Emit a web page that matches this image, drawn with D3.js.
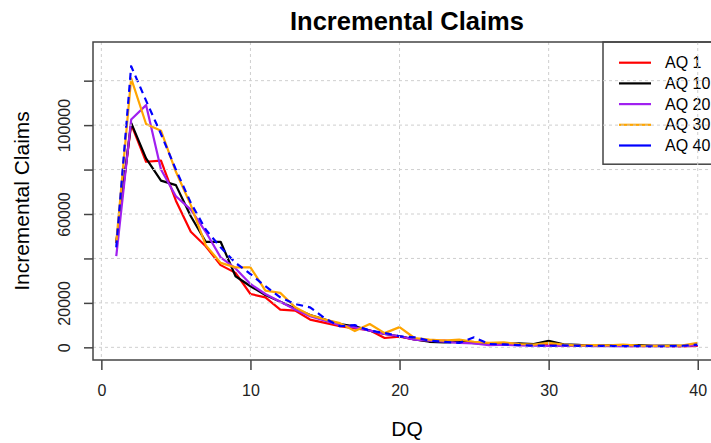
<!DOCTYPE html>
<html>
<head>
<meta charset="utf-8">
<script src="https://cdn.jsdelivr.net/npm/d3@7/dist/d3.min.js"></script>
<style>
  html, body { margin: 0; padding: 0; background: #fff; }
  svg { display: block; font-family: "Liberation Sans", Arial, sans-serif; }
</style>
</head>
<body>
<svg id="chart" width="711" height="443"></svg>
<script>
// Development quarters
const dq = [1,2,3,4,5,6,7,8,9,10,11,12,13,14,15,16,17,18,19,20,
            21,22,23,24,25,26,27,28,29,30,31,32,33,34,35,36,37,38,39,40];

// Incremental claims by development quarter, one array per accident quarter
const aq1  = [47000,100500,83500,84000,66000,52000,45500,37000,33500,24000,
              22500,17000,16500,12500,11000,9500,8500,7700,4200,4800,
              3600,2800,3000,2500,2200,1500,1800,1400,1200,1100,
              1000,900,700,800,600,500,700,500,400,600];
const aq10 = [47000,101000,85000,75000,73000,59000,47500,47500,32000,27500,
              23500,20500,17500,14500,12500,10500,9500,7500,6000,5000,
              3600,2500,2200,2500,1900,1500,1400,1800,1500,2900,
              1300,1100,600,900,700,1000,700,800,700,1200];
const aq20 = [41000,102500,109000,80000,68000,62000,52000,40500,35500,28500,
              24000,20500,17000,14000,12000,10000,9000,7500,6000,5000,
              3500,3000,2500,2000,1800,1000,1200,900,800,700,
              600,800,500,600,400,500,600,400,500,1000];
const aq30 = [47000,121000,100500,97500,79000,64000,46000,38000,36000,36000,
              25500,24500,18000,14500,12500,10900,7300,10500,6400,9100,
              4200,3500,3000,3500,2500,2000,2200,1500,1200,2000,
              1200,800,1000,900,1200,800,600,700,900,2000];
const aq40 = [45000,126500,111000,96000,80000,65000,53000,45000,38000,33000,
              27500,22500,19500,18000,13000,9500,10000,7500,6500,5000,
              4500,3000,2500,2000,4500,1500,1300,1000,800,700,
              900,700,600,700,500,600,400,500,700,1200];

const seriesNames  = ["AQ 1", "AQ 10", "AQ 20", "AQ 30", "AQ 40"];
const seriesValues = [aq1, aq10, aq20, aq30, aq40];
const seriesColors = ["#ff0000", "#000000", "#a020f0", "#ffa500", "#0000ff"];
const seriesDash   = [null, null, null, null, "7,5"];

const xTicks = [0, 10, 20, 30, 40];
const yTicks = [0, 20000, 40000, 60000, 80000, 100000, 120000];
const yTickLabelsShown = ["0", "20000", "", "60000", "", "100000", ""];

// y limits of the plotting frame before the usual 4% padding
const yLimits = [-400, 132100];

const svg = d3.select("#chart");
const plot = { left: 93, right: 721, top: 42, bottom: 360 };

function pad(lim) {
  const e = (lim[1] - lim[0]) * 0.04;
  return [lim[0] - e, lim[1] + e];
}

const x = d3.scaleLinear().domain(pad([dq[0], dq[dq.length - 1]])).range([plot.left, plot.right]);
const y = d3.scaleLinear().domain(pad(yLimits)).range([plot.bottom, plot.top]);

svg.append("defs").append("clipPath").attr("id", "plotClip")
  .append("rect")
  .attr("x", plot.left).attr("y", plot.top)
  .attr("width", plot.right - plot.left).attr("height", plot.bottom - plot.top);

// Data lines
const line = d3.line().x((d, i) => x(dq[i])).y(d => y(d));
const lines = svg.append("g").attr("clip-path", "url(#plotClip)");
seriesValues.forEach((vals, k) => {
  lines.append("path")
    .attr("d", line(vals))
    .attr("fill", "none")
    .attr("stroke", seriesColors[k])
    .attr("stroke-width", 2.2)
    .attr("stroke-linejoin", "round")
    .attr("stroke-linecap", "butt")
    .attr("stroke-dasharray", seriesDash[k]);
});

// Legend in the top-right corner
const legRowH = 20.7;
const legend = svg.append("g");
legend.append("rect")
  .attr("x", 603).attr("y", plot.top)
  .attr("width", 140).attr("height", legRowH * 6 - 2)
  .attr("fill", "#fff").attr("stroke", "#444").attr("stroke-width", 1.5);
seriesNames.forEach((name, k) => {
  const ly = plot.top + 20.7 + k * legRowH;
  legend.append("line")
    .attr("x1", 619).attr("x2", 651).attr("y1", ly).attr("y2", ly)
    .attr("stroke", seriesColors[k]).attr("stroke-width", 2.2);
  legend.append("text")
    .attr("x", 665).attr("y", ly)
    .attr("dy", "0.35em")
    .attr("font-size", 16)
    .attr("fill", "#000")
    .text(name);
});

// Dotted grid at the axis ticks
const grid = svg.append("g").attr("clip-path", "url(#plotClip)")
  .attr("stroke", "#cfcfcf").attr("stroke-width", 1).attr("stroke-dasharray", "3,3");
xTicks.forEach(t => grid.append("line")
  .attr("x1", x(t)).attr("x2", x(t)).attr("y1", plot.top).attr("y2", plot.bottom));
yTicks.forEach(t => grid.append("line")
  .attr("x1", plot.left).attr("x2", plot.right).attr("y1", y(t)).attr("y2", y(t)));

// Frame
svg.append("rect")
  .attr("x", plot.left).attr("y", plot.top)
  .attr("width", plot.right - plot.left).attr("height", plot.bottom - plot.top)
  .attr("fill", "none").attr("stroke", "#444").attr("stroke-width", 1.5);

// Axes
const xAxis = d3.axisBottom(x).tickValues(xTicks).tickSize(10).tickPadding(15);
const gx = svg.append("g").attr("transform", `translate(0,${plot.bottom})`).call(xAxis);
gx.select(".domain").remove();
gx.selectAll(".tick line").attr("stroke", "#444").attr("stroke-width", 1.5);
gx.selectAll(".tick text").attr("font-size", 16).attr("fill", "#222")
  .attr("font-family", "Liberation Sans, Arial, sans-serif");

const yAxis = d3.axisLeft(y).tickValues(yTicks).tickSize(9).tickFormat((d, i) => yTickLabelsShown[i]);
const gy = svg.append("g").attr("transform", `translate(${plot.left},0)`).call(yAxis);
gy.select(".domain").remove();
gy.selectAll(".tick line").attr("stroke", "#444").attr("stroke-width", 1.5);
gy.selectAll(".tick text")
  .attr("font-size", 16).attr("fill", "#222")
  .attr("font-family", "Liberation Sans, Arial, sans-serif")
  .attr("x", null).attr("dy", null)
  .attr("text-anchor", "middle")
  .attr("transform", "translate(-23,0) rotate(-90)");

// Titles
svg.append("text")
  .attr("x", (plot.left + plot.right) / 2).attr("y", 30)
  .attr("text-anchor", "middle").attr("font-size", 25).attr("font-weight", "bold")
  .attr("textLength", 234).attr("lengthAdjust", "spacingAndGlyphs")
  .text("Incremental Claims");

svg.append("text")
  .attr("x", (plot.left + plot.right) / 2).attr("y", 436)
  .attr("text-anchor", "middle").attr("font-size", 21)
  .text("DQ");

svg.append("text")
  .attr("transform", `translate(29,${(plot.top + plot.bottom) / 2}) rotate(-90)`)
  .attr("text-anchor", "middle").attr("font-size", 21)
  .text("Incremental Claims");
</script>
</body>
</html>
